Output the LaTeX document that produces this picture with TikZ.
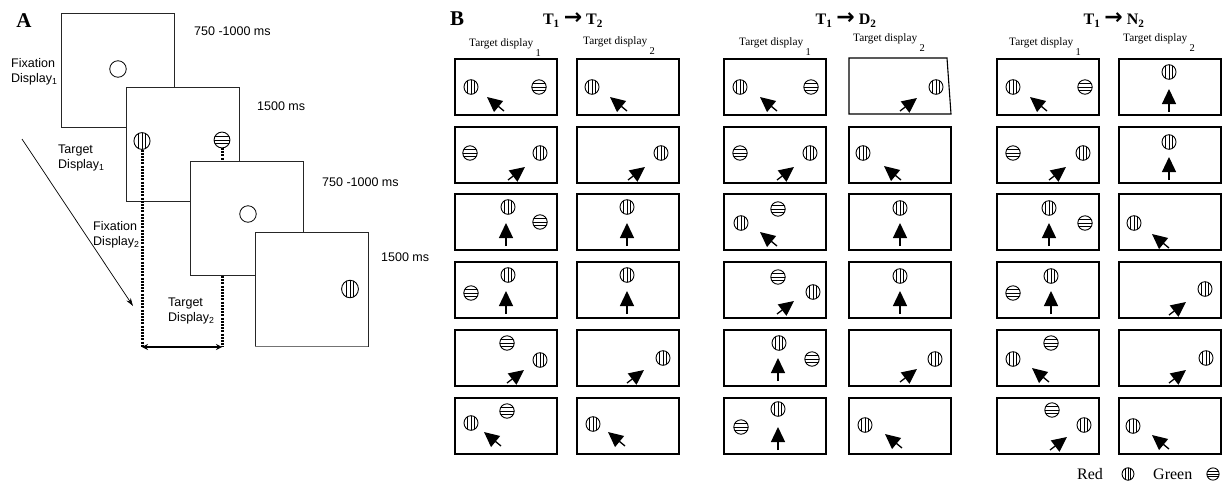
\documentclass[tikz,border=0pt]{standalone}
\usepackage{fontspec}
\setmainfont{Liberation Serif}
\setsansfont{Liberation Sans}
\newfontfamily\arrowfont{DejaVu Sans}
\usetikzlibrary{arrows.meta}

\tikzset{
  cellframe/.style={draw=black, line width=1.1pt},
  stripe/.style={line width=0.75pt},
  ring/.style={line width=0.9pt},
  stimarrow/.style={line width=1.3pt, -{Triangle[length=15pt,width=14pt]}},
  abox/.style={draw=black!85, line width=0.9pt, fill=white, minimum width=113pt, minimum height=114pt, anchor=north west, inner sep=0pt, outer sep=0pt},
  fixring/.style={circle, draw, line width=0.8pt, minimum size=16.5pt, inner sep=0pt},
  alabel/.style={font=\sffamily\fontsize{12.5}{15.5}\selectfont, align=left, anchor=west, inner sep=0pt},
  clabel/.style={font=\fontsize{11.3}{12}\selectfont, anchor=base west, inner sep=0pt},
  hlabel/.style={font=\bfseries\fontsize{16}{18}\selectfont, inner sep=0pt},
  plabel/.style={font=\bfseries\fontsize{21}{21}\selectfont, inner sep=0pt},
  leglabel/.style={font=\fontsize{16}{18}\selectfont, anchor=west, inner sep=0pt},
  dotline/.style={line width=3pt, dash pattern=on 2pt off 1.2pt},
  redc/.pic={
    \begin{scope}
      \clip (0,0) ellipse[x radius=7, y radius=7.3];
      \foreach \s in {-3.2,0,3.2} \draw[stripe] (\s,-9) -- (\s,9);
    \end{scope}
    \draw[ring] (0,0) ellipse[x radius=7, y radius=7.3];
  },
  greenc/.pic={
    \begin{scope}
      \clip (0,0) ellipse[x radius=7.2, y radius=7.2];
      \foreach \s in {-3.2,0,3.2} \draw[stripe] (-9,\s) -- (9,\s);
    \end{scope}
    \draw[ring] (0,0) ellipse[x radius=7.2, y radius=7.2];
  },
}

\newcommand\mkcell[3]{\coordinate (#1) at (#2,#3); \draw[cellframe] (#1) rectangle ++(102,56);}
\newcommand\stR[3]{\pic at ([shift={(#2,#3)}]#1) {redc};}
\newcommand\stG[3]{\pic at ([shift={(#2,#3)}]#1) {greenc};}
\newcommand\arUL[3]{\draw[stimarrow] ([shift={(#2,#3)}]#1) -- ([shift={(#2-17,#3-14)}]#1);}
\newcommand\arUR[3]{\draw[stimarrow] ([shift={(#2,#3)}]#1) -- ([shift={(#2+17,#3-13)}]#1);}
\newcommand\arUP[3]{\draw[stimarrow] ([shift={(#2,#3)}]#1) -- ([shift={(#2,#3-23)}]#1);}
\newcommand\tdisp[1]{Target display\hspace{2.5pt}\raisebox{-10pt}{\fontsize{10.5}{11}\selectfont #1}}

\begin{document}
\begin{tikzpicture}[x=1pt,y=-1pt]
\useasboundingbox (0,0) rectangle (1226,496);

% ---------------- Panel A ----------------
\node[plabel] (lA) at (24,21) {A};

\node[abox] (fix1) at (61,13) {};
\node[fixring] (fc1) at (118,69) {};
\node[abox] (tgt1) at (126,87) {};
\coordinate (ra) at (142,141);
\coordinate (ga) at (222,140);
\pic[scale=1.15] at (ra) {redc};
\pic[scale=1.1] at (ga) {greenc};
\coordinate (tdl) at (142,347);
\coordinate (tdr) at (222,347);
\draw[dotline] ([yshift=-8.5pt]ra) -- (tdl);
\draw[dotline] ([yshift=-8pt]ga) -- (tdr);
\node[abox] (fix2) at (190,161) {};
\node[fixring] (fc2) at (248,214) {};
\node[abox] (tgt2) at (255,232) {};
\draw[black!55, line width=1pt] (tgt2.south west) -- (tgt2.south east);
\coordinate (rb) at (350,289);
\pic[scale=1.2] at (rb) {redc};
\draw[line width=1.5pt, {Stealth[length=6pt,width=6pt]}-{Stealth[length=6pt,width=6pt]}] (tdl) -- (tdr);

\node[alabel] (t1) at (194,31) {750 -1000 ms};
\node[alabel] (t2) at (257,106) {1500 ms};
\node[alabel] (t3) at (322,182) {750 -1000 ms};
\node[alabel] (t4) at (381,257) {1500 ms};
\node[alabel] (n1) at (11,72) {Fixation\\Display\textsubscript{1}};
\node[alabel] (n2) at (58,158) {Target\\Display\textsubscript{1}};
\node[alabel] (n3) at (93,235) {Fixation\\Display\textsubscript{2}};
\node[alabel] (n4) at (168,311) {Target\\Display\textsubscript{2}};

\coordinate (ds) at (22,139);
\coordinate (de) at (133,306);
\draw[line width=0.7pt, -{Stealth[length=8pt,width=5pt]}] (ds) -- (de);

% ---------------- Panel B ----------------
\node[plabel] (lB) at (457,19) {B};
\node[hlabel] (h1) at (573,20) {T\textsubscript{1}\hspace{4pt}{\arrowfont\bfseries\fontsize{22}{22}\selectfont →}\hspace{4pt}T\textsubscript{2}};
\node[hlabel] (h2) at (846,20) {T\textsubscript{1}\hspace{4pt}{\arrowfont\bfseries\fontsize{22}{22}\selectfont →}\hspace{4pt}D\textsubscript{2}};
\node[hlabel] (h3) at (1114,20) {T\textsubscript{1}\hspace{4pt}{\arrowfont\bfseries\fontsize{22}{22}\selectfont →}\hspace{4pt}N\textsubscript{2}};

\node[clabel] (c1) at (469,46) {\tdisp{1}};
\node[clabel] (c2) at (583,44) {\tdisp{2}};
\node[clabel] (c3) at (739,45) {\tdisp{1}};
\node[clabel] (c4) at (853,41) {\tdisp{2}};
\node[clabel] (c5) at (1009,45) {\tdisp{1}};
\node[clabel] (c6) at (1123,41) {\tdisp{2}};

% T1 -> T2, column 1
\mkcell{Ta1}{455}{59}  \stR{Ta1}{16}{28} \stG{Ta1}{84}{28} \arUL{Ta1}{49}{52}
\mkcell{Tb1}{455}{127} \stG{Tb1}{15}{26} \stR{Tb1}{85}{26} \arUR{Tb1}{53}{53}
\mkcell{Tc1}{455}{194} \stR{Tc1}{53}{13} \stG{Tc1}{85}{28} \arUP{Tc1}{51}{52}
\mkcell{Td1}{455}{262} \stR{Td1}{53}{13} \stG{Td1}{16}{31} \arUP{Td1}{51}{52}
\mkcell{Te1}{455}{330} \stG{Te1}{52}{13} \stR{Te1}{85}{30} \arUR{Te1}{52}{53}
\mkcell{Tf1}{455}{398} \stG{Tf1}{52}{13} \stR{Tf1}{16}{25} \arUL{Tf1}{46}{48}
% column 2
\mkcell{Ta2}{577}{59}  \stR{Ta2}{15}{28} \arUL{Ta2}{50}{52}
\mkcell{Tb2}{577}{127} \stR{Tb2}{84}{26} \arUR{Tb2}{51}{53}
\mkcell{Tc2}{577}{194} \stR{Tc2}{50}{13} \arUP{Tc2}{50}{52}
\mkcell{Td2}{577}{262} \stR{Td2}{50}{13} \arUP{Td2}{50}{52}
\mkcell{Te2}{577}{330} \stR{Te2}{86}{28} \arUR{Te2}{50}{53}
\mkcell{Tf2}{577}{398} \stR{Tf2}{16}{26} \arUL{Tf2}{48}{48}

% T1 -> D2, column 1
\mkcell{Da1}{724}{59}  \stR{Da1}{16}{28} \stG{Da1}{87}{28} \arUL{Da1}{53}{52}
\mkcell{Db1}{724}{127} \stG{Db1}{16}{26} \stR{Db1}{86}{26} \arUR{Db1}{53}{53}
\mkcell{Dc1}{724}{194} \stG{Dc1}{54}{15} \stR{Dc1}{17}{29} \arUL{Dc1}{53}{52}
\mkcell{Dd1}{724}{262} \stG{Dd1}{54}{15} \stR{Dd1}{89}{30} \arUR{Dd1}{53}{52}
\mkcell{De1}{724}{330} \stR{De1}{55}{13} \stG{De1}{88}{29} \arUP{De1}{54}{51}
\mkcell{Df1}{724}{398} \stR{Df1}{54}{11} \stG{Df1}{17}{29} \arUP{Df1}{54}{52}
% column 2
\coordinate (Da2) at (849,58);
\draw[cellframe] (Da2) -- ++(98,0) -- ++(4,56) -- ++(-102,0) -- cycle;
\stR{Da2}{87}{29} \arUR{Da2}{51}{53}
\mkcell{Db2}{849}{127} \stR{Db2}{14}{26} \arUL{Db2}{52}{53}
\mkcell{Dc2}{849}{194} \stR{Dc2}{51}{14} \arUP{Dc2}{51}{52}
\mkcell{Dd2}{849}{262} \stR{Dd2}{51}{14} \arUP{Dd2}{51}{52}
\mkcell{De2}{849}{330} \stR{De2}{86}{29} \arUR{De2}{51}{52}
\mkcell{Df2}{849}{398} \stR{Df2}{16}{27} \arUL{Df2}{53}{50}

% T1 -> N2, column 1
\mkcell{Na1}{997}{59}  \stR{Na1}{16}{28} \stG{Na1}{88}{28} \arUL{Na1}{50}{52}
\mkcell{Nb1}{997}{127} \stG{Nb1}{16}{26} \stR{Nb1}{86}{26} \arUR{Nb1}{52}{53}
\mkcell{Nc1}{997}{194} \stR{Nc1}{52}{14} \stG{Nc1}{88}{29} \arUP{Nc1}{52}{52}
\mkcell{Nd1}{997}{262} \stR{Nd1}{54}{14} \stG{Nd1}{16}{31} \arUP{Nd1}{54}{52}
\mkcell{Ne1}{997}{330} \stG{Ne1}{54}{13} \stR{Ne1}{16}{29} \arUL{Ne1}{52}{52}
\mkcell{Nf1}{997}{398} \stG{Nf1}{55}{12} \stR{Nf1}{87}{27} \arUR{Nf1}{53}{52}
% column 2
\mkcell{Na2}{1119}{59}  \stR{Na2}{50}{13} \arUP{Na2}{50}{53}
\mkcell{Nb2}{1119}{127} \stR{Nb2}{50}{15} \arUP{Nb2}{50}{53}
\mkcell{Nc2}{1119}{194} \stR{Nc2}{15}{29} \arUL{Nc2}{50}{54}
\mkcell{Nd2}{1119}{262} \stR{Nd2}{86}{27} \arUR{Nd2}{50}{53}
\mkcell{Ne2}{1119}{330} \stR{Ne2}{87}{28} \arUR{Ne2}{50}{53}
\mkcell{Nf2}{1119}{398} \stR{Nf2}{14}{28} \arUL{Nf2}{50}{51}

% legend
\node[leglabel] (lgr) at (1077,474) {Red};
\coordinate (lgrc) at (1128,474);
\pic[scale=0.85] at (lgrc) {redc};
\node[leglabel] (lgg) at (1153,474) {Green};
\coordinate (lggc) at (1213,474);
\pic[scale=0.85] at (lggc) {greenc};
\end{tikzpicture}
\end{document}
